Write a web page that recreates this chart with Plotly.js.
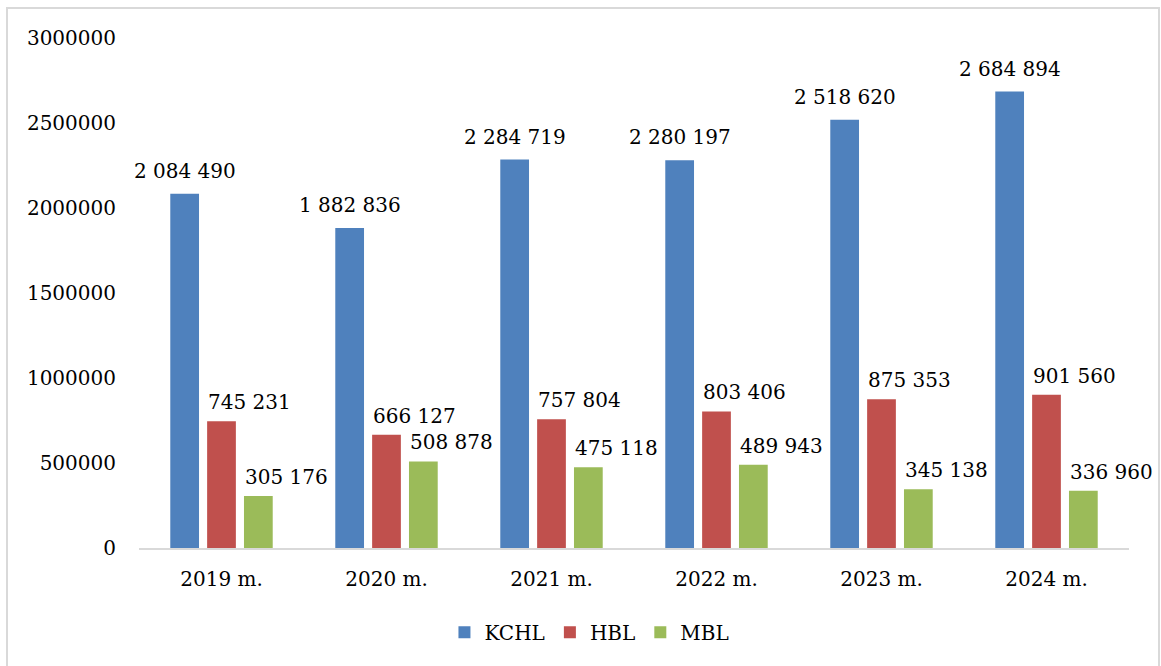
<!DOCTYPE html>
<html>
<head>
<meta charset="utf-8">
<script src="https://cdn.plot.ly/plotly-3.0.1.min.js"></script>
<style>
  html, body { margin: 0; padding: 0; background: #fff; overflow: hidden; }
  #chart { position: absolute; left: 0; top: 0; width: 1161px; height: 666px; }
  #frame { position: absolute; left: 6px; top: 7px; width: 1150px; height: 700px;
           border: 2px solid #d9d9d9; pointer-events: none; }
</style>
</head>
<body>
<div id="chart"></div>
<div id="frame"></div>
<script>
const categories = ["2019 m.", "2020 m.", "2021 m.", "2022 m.", "2023 m.", "2024 m."];
const seriesNames = ["KCHL", "HBL", "MBL"];
const kchl = [2084490, 1882836, 2284719, 2280197, 2518620, 2684894];
const hbl  = [745231, 666127, 757804, 803406, 875353, 901560];
const mbl  = [305176, 508878, 475118, 489943, 345138, 336960];
const colors = ["#4f81bd", "#c0504d", "#9bbb59"];
const yTicks = [0, 500000, 1000000, 1500000, 2000000, 2500000, 3000000];

const FONT = "DejaVu Serif";
const fmt = v => String(v).replace(/\B(?=(\d{3})+(?!\d))/g, " ");

const allSeries = [kchl, hbl, mbl];
const traces = allSeries.map((vals, i) => ({
  type: "bar",
  name: seriesNames[i],
  x: categories,
  y: vals,
  marker: { color: colors[i] },
  hoverinfo: "x+y+name"
}));

// geometry (pixel offsets within a category) for label placement
const plotW = 990, nCat = categories.length, bargap = 0.33, groupgap = 0.22;
const catW = plotW / nCat;
const slot = catW * (1 - bargap) / 3;
const barW = slot * (1 - groupgap);
const annotations = [];
allSeries.forEach((vals, i) => {
  const center = (i - 1) * slot;
  vals.forEach((v, j) => {
    const isBlue = i === 0;
    annotations.push({
      x: categories[j], y: v, xref: "x", yref: "y",
      text: fmt(v), showarrow: false,
      xanchor: isBlue ? "center" : "left",
      yanchor: "bottom",
      xshift: isBlue ? center : center - barW / 2 - 1,
      yshift: isBlue ? 9 : 5,
      font: { family: FONT, size: 20, color: "#000" }
    });
  });
});

const layout = {
  width: 1161, height: 666,
  margin: { l: 139, r: 32, t: 38, b: 118, autoexpand: false },
  paper_bgcolor: "rgba(0,0,0,0)",
  plot_bgcolor: "rgba(0,0,0,0)",
  barmode: "group",
  bargap: bargap,
  bargroupgap: groupgap,
  font: { family: FONT, size: 20, color: "#000" },
  xaxis: {
    type: "category",
    range: [-0.5, categories.length - 0.5],
    automargin: false,
    showgrid: false, zeroline: false,
    showline: true, linecolor: "#d9d9d9", linewidth: 2,
    ticks: "", ticklabelstandoff: 12,
    tickfont: { family: FONT, size: 20, color: "#000" }
  },
  yaxis: {
    range: [0, 3000000],
    automargin: false,
    tickvals: yTicks,
    ticktext: yTicks.map(String),
    showgrid: false, zeroline: false, showline: false,
    ticks: "", ticklabelstandoff: 22,
    tickfont: { family: FONT, size: 20, color: "#000" }
  },
  showlegend: true,
  legend: {
    orientation: "h",
    x: 0.455, xanchor: "center",
    y: -0.165, yanchor: "middle",
    font: { family: FONT, size: 20, color: "#000" },
    traceorder: "normal"
  },
  annotations: annotations
};

Plotly.newPlot("chart", traces, layout, { displayModeBar: false, staticPlot: true });
</script>
</body>
</html>
